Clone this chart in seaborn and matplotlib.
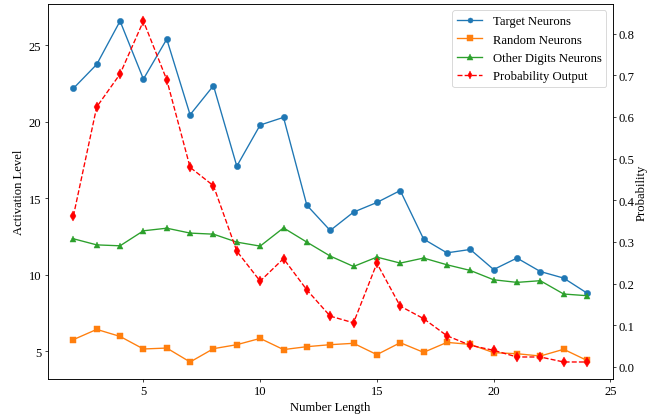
import pandas as pd
import matplotlib
matplotlib.use('Agg')
import matplotlib.pyplot as plt
import seaborn as sns

# --- Data ---
lengths = list(range(2, 25))
target = [22.17, 23.74, 26.57, 22.78, 25.39, 20.45, 22.35, 17.09, 19.78, 20.28, 14.54, 12.89,
          14.09, 14.72, 15.50, 12.33, 11.43, 11.65, 10.34, 11.09, 10.21, 9.78, 8.80]
random_n = [5.76, 6.43, 5.97, 5.15, 5.21, 4.30, 5.17, 5.43, 5.84, 5.11, 5.30, 5.43,
            5.52, 4.78, 5.56, 4.93, 5.58, 5.45, 4.91, 4.84, 4.69, 5.13, 4.40]
other = [12.35, 11.95, 11.89, 12.87, 13.04, 12.72, 12.65, 12.13, 11.87, 13.06, 12.13, 11.22,
         10.54, 11.15, 10.76, 11.09, 10.65, 10.28, 9.67, 9.50, 9.61, 8.74, 8.63]
prob = [0.362, 0.624, 0.703, 0.830, 0.689, 0.479, 0.435, 0.278, 0.206, 0.260, 0.185, 0.122,
        0.106, 0.249, 0.146, 0.116, 0.075, 0.052, 0.040, 0.024, 0.024, 0.012, 0.012]

df = pd.DataFrame({'Length': lengths, 'Target': target, 'Random': random_n,
                   'Other': other, 'Prob': prob})

plt.rcParams['font.family'] = ['Liberation Serif', 'DejaVu Serif']
plt.rcParams['font.size'] = 14

fig = plt.figure(figsize=(10, 6.476), dpi=64.7)
ax = fig.add_axes([0.0737, 0.093, 0.8733, 0.895])

# --- Activation lines (left axis) ---
series = [('Target', 'o', '#1f77b4', 'Target Neurons'),
          ('Random', 's', '#ff7f0e', 'Random Neurons'),
          ('Other', '^', '#2ca02c', 'Other Digits Neurons')]
for col, mk, c, lab in series:
    sns.lineplot(data=df, x='Length', y=col, marker=mk, color=c, label=lab,
                 markersize=7, markeredgecolor=c, markeredgewidth=0.5, linewidth=1.5, ax=ax)
ax.set_xlabel('Number Length')
ax.set_ylabel('Activation Level')

# --- Probability line (right axis) ---
ax2 = ax.twinx()
sns.lineplot(data=df, x='Length', y='Prob', marker='d', color='red', linestyle='--',
             markersize=8, markeredgecolor='red', markeredgewidth=0.5, linewidth=1.5,
             label='Probability Output', ax=ax2)
ax2.set_ylabel('Probability', labelpad=1)

h1, l1 = ax.get_legend_handles_labels()
h2, l2 = ax2.get_legend_handles_labels()
ax.get_legend().remove()
ax2.get_legend().remove()
ax2.legend(h1 + h2, l1 + l2, loc='upper right', markerscale=0.8)

fig.savefig('out.png', dpi=64.7)
